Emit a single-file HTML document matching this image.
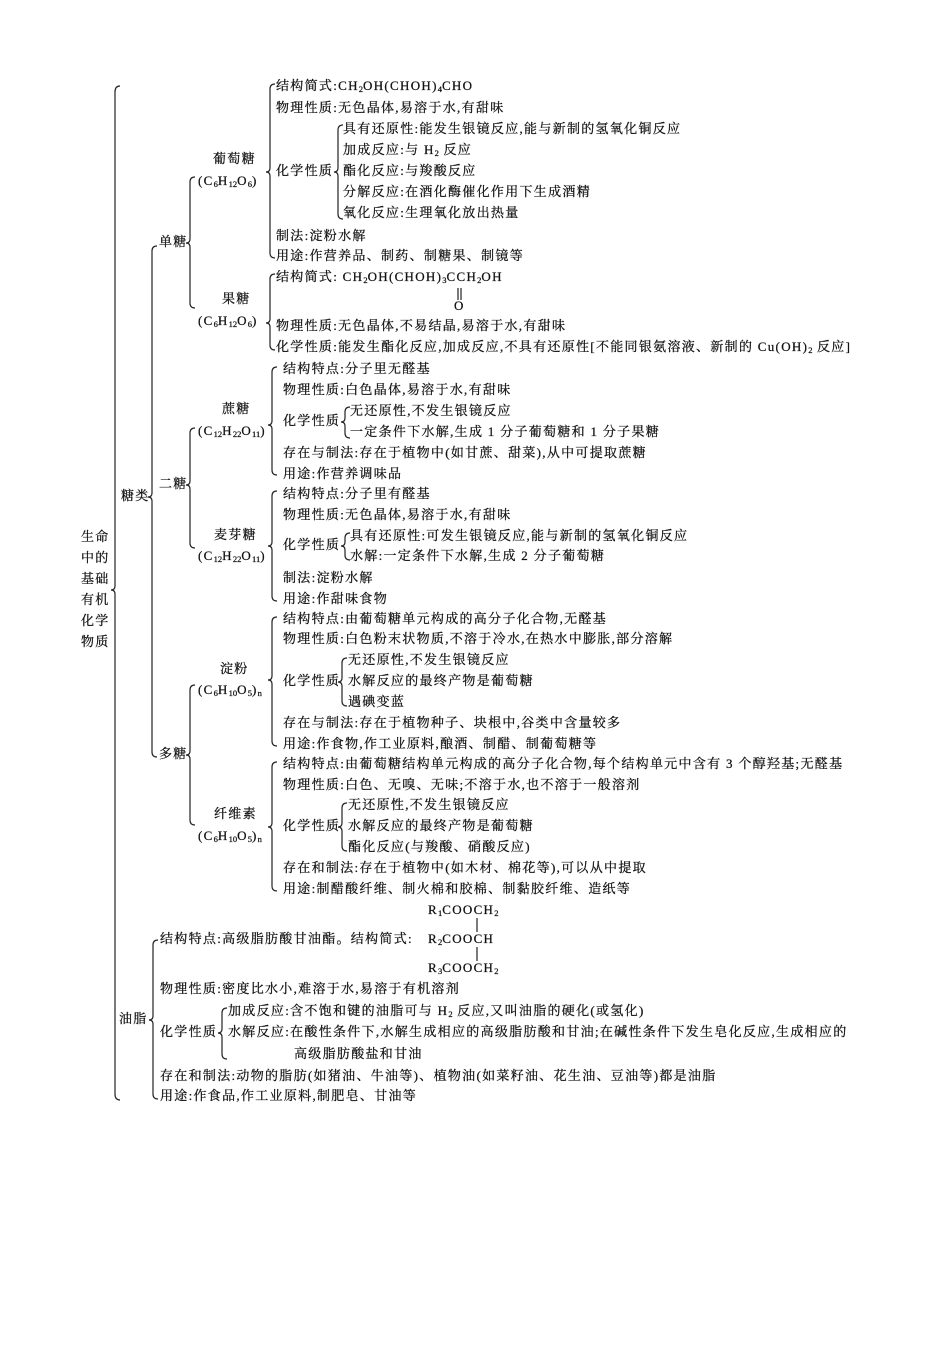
<!DOCTYPE html>
<html><head><meta charset="utf-8"><style>
html,body{margin:0;padding:0;background:#fff;}
svg text{font-family:"Liberation Serif","Noto Serif CJK SC",serif;font-size:13px;fill:#111;stroke:#111;stroke-width:0.25;letter-spacing:1.3px;dominant-baseline:middle;}
.s{font-size:8.5px;letter-spacing:0;}
path{fill:none;stroke:#222;stroke-width:1.2;}
</style></head><body>
<svg width="950" height="1344" viewBox="0 0 950 1344" xmlns="http://www.w3.org/2000/svg">
<path d="M120 86 Q115 86 115 92 L115 586 Q115 590 111 590 Q115 590 115 594 L115 1094 Q115 1100 120 1100"/>
<path d="M157 246 Q152 246 152 251 L152 493 Q152 497 148 497 Q152 497 152 501 L152 752 Q152 757 157 757"/>
<path d="M195 177 Q190 177 190 182 L190 239 Q190 243 186 243 Q190 243 190 247 L190 303 Q190 308 195 308"/>
<path d="M275 84 Q270 84 270 89 L270 168 Q270 172 266 172 Q270 172 270 176 L270 253 Q270 258 275 258"/>
<path d="M343 125 Q338 125 338 130 L338 168 Q338 172 334 172 Q338 172 338 176 L338 214 Q338 219 343 219"/>
<path d="M275 274 Q270 274 270 279 L270 319 Q270 323 266 323 Q270 323 270 327 L270 345 Q270 350 275 350"/>
<path d="M195 428 Q190 428 190 433 L190 481 Q190 485 186 485 Q190 485 190 489 L190 543 Q190 548 195 548"/>
<path d="M277 367 Q272 367 272 372 L272 421 Q272 425 268 425 Q272 425 272 429 L272 470 Q272 475 277 475"/>
<path d="M350 407 Q345 407 345 412 L345 418 Q345 422 341 422 Q345 422 345 426 L345 433 Q345 438 350 438"/>
<path d="M277 491 Q272 491 272 496 L272 542 Q272 546 268 546 Q272 546 272 550 L272 596 Q272 601 277 601"/>
<path d="M350 533 Q345 533 345 538 L345 542 Q345 546 341 546 Q345 546 345 550 L345 555 Q345 560 350 560"/>
<path d="M195 685 Q190 685 190 690 L190 751 Q190 755 186 755 Q190 755 190 759 L190 820 Q190 825 195 825"/>
<path d="M277 617 Q272 617 272 622 L272 676 Q272 680 268 680 Q272 680 272 684 L272 741 Q272 746 277 746"/>
<path d="M347 658 Q342 658 342 663 L342 678 Q342 682 338 682 Q342 682 342 686 L342 701 Q342 706 347 706"/>
<path d="M277 762 Q272 762 272 767 L272 823 Q272 827 268 827 Q272 827 272 831 L272 886 Q272 891 277 891"/>
<path d="M347 803 Q342 803 342 808 L342 823 Q342 827 338 827 Q342 827 342 831 L342 846 Q342 851 347 851"/>
<path d="M158 940 Q153 940 153 945 L153 1016 Q153 1020 149 1020 Q153 1020 153 1024 L153 1094 Q153 1099 158 1099"/>
<path d="M227 1008 Q222 1008 222 1013 L222 1029 Q222 1033 218 1033 Q222 1033 222 1037 L222 1054 Q222 1059 227 1059"/>
<path d="M477 918 L477 932 M477 947 L477 961"/>
<path d="M458 288 L458 300 M461 288 L461 300"/>
<text x="81" y="538">生命</text><text x="81" y="559">中的</text><text x="81" y="580">基础</text><text x="81" y="601">有机</text><text x="81" y="622">化学</text><text x="81" y="643">物质</text>
<text x="121" y="497">糖类</text>
<text x="159" y="243">单糖</text>
<text x="213" y="160">葡萄糖</text>
<text x="198" y="182">(C<tspan class="s" dy="3">6</tspan><tspan dy="-3">H</tspan><tspan class="s" dy="3">12</tspan><tspan dy="-3">O</tspan><tspan class="s" dy="3">6</tspan><tspan dy="-3">)</tspan></text>
<text x="276" y="87">结构简式:CH<tspan class="s" dy="3">2</tspan><tspan dy="-3">OH(CHOH)</tspan><tspan class="s" dy="3">4</tspan><tspan dy="-3">CHO</tspan></text>
<text x="276" y="109">物理性质:无色晶体,易溶于水,有甜味</text>
<text x="276" y="172">化学性质</text>
<text x="343" y="130">具有还原性:能发生银镜反应,能与新制的氢氧化铜反应</text>
<text x="343" y="151">加成反应:与 H<tspan class="s" dy="3">2</tspan><tspan dy="-3"> 反应</tspan></text>
<text x="343" y="172">酯化反应:与羧酸反应</text>
<text x="343" y="193">分解反应:在酒化酶催化作用下生成酒精</text>
<text x="343" y="214">氧化反应:生理氧化放出热量</text>
<text x="276" y="237">制法:淀粉水解</text>
<text x="276" y="257">用途:作营养品、制药、制糖果、制镜等</text>
<text x="222" y="300">果糖</text>
<text x="198" y="322">(C<tspan class="s" dy="3">6</tspan><tspan dy="-3">H</tspan><tspan class="s" dy="3">12</tspan><tspan dy="-3">O</tspan><tspan class="s" dy="3">6</tspan><tspan dy="-3">)</tspan></text>
<text x="276" y="278">结构简式:  CH<tspan class="s" dy="3">2</tspan><tspan dy="-3">OH(CHOH)</tspan><tspan class="s" dy="3">3</tspan><tspan dy="-3">CCH</tspan><tspan class="s" dy="3">2</tspan><tspan dy="-3">OH</tspan></text>
<text x="454" y="307">O</text>
<text x="276" y="327">物理性质:无色晶体,不易结晶,易溶于水,有甜味</text>
<text x="276" y="348">化学性质:能发生酯化反应,加成反应,不具有还原性[不能同银氨溶液、新制的 Cu(OH)<tspan class="s" dy="3">2</tspan><tspan dy="-3"> 反应]</tspan></text>
<text x="159" y="485">二糖</text>
<text x="222" y="410">蔗糖</text>
<text x="198" y="432">(C<tspan class="s" dy="3">12</tspan><tspan dy="-3">H</tspan><tspan class="s" dy="3">22</tspan><tspan dy="-3">O</tspan><tspan class="s" dy="3">11</tspan><tspan dy="-3">)</tspan></text>
<text x="283" y="370">结构特点:分子里无醛基</text>
<text x="283" y="391">物理性质:白色晶体,易溶于水,有甜味</text>
<text x="283" y="422">化学性质</text>
<text x="350" y="412">无还原性,不发生银镜反应</text>
<text x="350" y="433">一定条件下水解,生成 1 分子葡萄糖和 1 分子果糖</text>
<text x="283" y="454">存在与制法:存在于植物中(如甘蔗、甜菜),从中可提取蔗糖</text>
<text x="283" y="475">用途:作营养调味品</text>
<text x="214" y="536">麦芽糖</text>
<text x="198" y="557">(C<tspan class="s" dy="3">12</tspan><tspan dy="-3">H</tspan><tspan class="s" dy="3">22</tspan><tspan dy="-3">O</tspan><tspan class="s" dy="3">11</tspan><tspan dy="-3">)</tspan></text>
<text x="283" y="495">结构特点:分子里有醛基</text>
<text x="283" y="516">物理性质:无色晶体,易溶于水,有甜味</text>
<text x="283" y="546">化学性质</text>
<text x="350" y="537">具有还原性:可发生银镜反应,能与新制的氢氧化铜反应</text>
<text x="350" y="557">水解:一定条件下水解,生成 2 分子葡萄糖</text>
<text x="283" y="579">制法:淀粉水解</text>
<text x="283" y="600">用途:作甜味食物</text>
<text x="159" y="755">多糖</text>
<text x="220" y="670">淀粉</text>
<text x="198" y="691">(C<tspan class="s" dy="3">6</tspan><tspan dy="-3">H</tspan><tspan class="s" dy="3">10</tspan><tspan dy="-3">O</tspan><tspan class="s" dy="3">5</tspan><tspan dy="-3">)</tspan><tspan class="s" dy="3">n</tspan></text>
<text x="283" y="620">结构特点:由葡萄糖单元构成的高分子化合物,无醛基</text>
<text x="283" y="640">物理性质:白色粉末状物质,不溶于冷水,在热水中膨胀,部分溶解</text>
<text x="283" y="682">化学性质</text>
<text x="348" y="661">无还原性,不发生银镜反应</text>
<text x="348" y="682">水解反应的最终产物是葡萄糖</text>
<text x="348" y="703">遇碘变蓝</text>
<text x="283" y="724">存在与制法:存在于植物种子、块根中,谷类中含量较多</text>
<text x="283" y="745">用途:作食物,作工业原料,酿酒、制醋、制葡萄糖等</text>
<text x="214" y="815">纤维素</text>
<text x="198" y="837">(C<tspan class="s" dy="3">6</tspan><tspan dy="-3">H</tspan><tspan class="s" dy="3">10</tspan><tspan dy="-3">O</tspan><tspan class="s" dy="3">5</tspan><tspan dy="-3">)</tspan><tspan class="s" dy="3">n</tspan></text>
<text x="283" y="765">结构特点:由葡萄糖结构单元构成的高分子化合物,每个结构单元中含有 3 个醇羟基;无醛基</text>
<text x="283" y="786">物理性质:白色、无嗅、无味;不溶于水,也不溶于一般溶剂</text>
<text x="283" y="827">化学性质</text>
<text x="348" y="806">无还原性,不发生银镜反应</text>
<text x="348" y="827">水解反应的最终产物是葡萄糖</text>
<text x="348" y="848">酯化反应(与羧酸、硝酸反应)</text>
<text x="283" y="869">存在和制法:存在于植物中(如木材、棉花等),可以从中提取</text>
<text x="283" y="890">用途:制醋酸纤维、制火棉和胶棉、制黏胶纤维、造纸等</text>
<text x="119" y="1020">油脂</text>
<text x="428" y="911">R<tspan class="s" dy="3">1</tspan><tspan dy="-3">COOCH</tspan><tspan class="s" dy="3">2</tspan></text>
<text x="160" y="940">结构特点:高级脂肪酸甘油酯。结构简式:</text>
<text x="428" y="940">R<tspan class="s" dy="3">2</tspan><tspan dy="-3">COOCH</tspan></text>
<text x="428" y="969">R<tspan class="s" dy="3">3</tspan><tspan dy="-3">COOCH</tspan><tspan class="s" dy="3">2</tspan></text>
<text x="160" y="990">物理性质:密度比水小,难溶于水,易溶于有机溶剂</text>
<text x="160" y="1033">化学性质</text>
<text x="228" y="1012">加成反应:含不饱和键的油脂可与 H<tspan class="s" dy="3">2</tspan><tspan dy="-3"> 反应,又叫油脂的硬化(或氢化)</tspan></text>
<text x="228" y="1033">水解反应:在酸性条件下,水解生成相应的高级脂肪酸和甘油;在碱性条件下发生皂化反应,生成相应的</text>
<text x="294" y="1055">高级脂肪酸盐和甘油</text>
<text x="160" y="1077">存在和制法:动物的脂肪(如猪油、牛油等)、植物油(如菜籽油、花生油、豆油等)都是油脂</text>
<text x="160" y="1097">用途:作食品,作工业原料,制肥皂、甘油等</text>
</svg>
</body></html>
